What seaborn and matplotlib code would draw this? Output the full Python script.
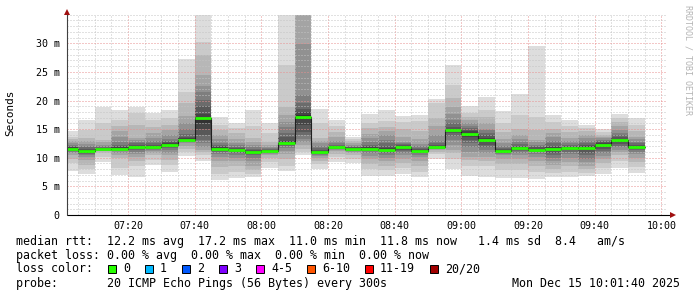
import numpy as np
import pandas as pd
import matplotlib
matplotlib.use("Agg")
import matplotlib.pyplot as plt
import matplotlib.dates as mdates
from matplotlib.ticker import FixedLocator, MultipleLocator
from matplotlib.patches import Rectangle
import seaborn as sns

# ---------------- data ----------------
graph_start = "2025-12-15 07:01:40"
graph_end = "2025-12-15 10:01:40"
bar_times = pd.date_range("2025-12-15 07:00", periods=35, freq="5min")

median_ms = [11.6, 11.2, 11.5, 11.5, 11.8, 11.9, 12.3, 13.1, 16.9, 11.6,
             11.3, 11.0, 11.2, 12.6, 17.2, 11.0, 11.8, 11.6, 11.6, 11.4,
             11.8, 11.2, 11.8, 14.8, 14.2, 13.1, 11.2, 11.7, 11.4, 11.5,
             11.7, 11.7, 12.2, 13.1, 11.8]

# 20 sorted ping rtts (ms) per 5-minute step
p0700 = [7.7, 9.0, 9.8, 10.4, 10.8, 11.0, 11.2, 11.4, 11.5, 11.6, 11.7, 11.8, 11.9, 12.0, 12.2, 12.5, 12.9, 13.3, 13.7, 14.7]
p0705 = [7.2, 8.0, 8.7, 9.6, 10.2, 10.5, 10.7, 10.9, 11.1, 11.2, 11.3, 11.4, 11.6, 11.8, 12.0, 12.4, 12.9, 13.4, 14.8, 16.6]
p0710 = [9.3, 10.2, 10.8, 11.1, 11.2, 11.3, 11.4, 11.4, 11.5, 11.5, 11.6, 11.6, 11.7, 11.8, 12.0, 12.3, 12.7, 13.1, 16.0, 18.9]
p0715 = [7.0, 8.3, 9.9, 10.5, 10.9, 11.1, 11.3, 11.4, 11.4, 11.5, 11.6, 11.8, 12.0, 12.3, 12.8, 13.6, 14.6, 15.6, 16.6, 18.3]
p0720 = [6.7, 8.5, 9.5, 10.2, 10.6, 11.0, 11.3, 11.5, 11.7, 11.8, 11.9, 12.0, 12.2, 12.5, 12.8, 13.1, 13.4, 15.7, 17.8, 18.9]
p0725 = [8.7, 9.6, 10.4, 10.9, 11.2, 11.4, 11.6, 11.7, 11.8, 11.9, 12.0, 12.1, 12.3, 12.6, 13.0, 13.5, 14.3, 15.3, 16.6, 17.9]
p0730 = [7.6, 8.8, 9.6, 10.4, 10.9, 11.3, 11.7, 11.9, 12.1, 12.3, 12.4, 12.6, 12.8, 13.0, 13.3, 14.0, 14.8, 15.7, 17.0, 18.3]
p0735 = [10.3, 11.0, 11.6, 12.1, 12.5, 12.7, 12.9, 13.0, 13.1, 13.1, 13.2, 13.4, 13.7, 14.2, 15.0, 16.0, 17.3, 19.6, 21.5, 27.2]
p0740 = [9.4, 10.5, 11.0, 11.4, 11.8, 12.5, 13.1, 14.0, 15.1, 16.0, 16.9, 17.6, 19.0, 20.1, 21.5, 22.5, 24.5, 27.9, 30.2, 38.0]
p0745 = [6.1, 7.2, 8.4, 9.5, 10.2, 10.7, 11.0, 11.2, 11.4, 11.6, 11.7, 11.8, 12.0, 12.2, 12.6, 13.2, 14.0, 14.8, 15.7, 17.1]
p0750 = [6.5, 7.5, 8.5, 9.4, 10.0, 10.5, 10.8, 11.0, 11.2, 11.3, 11.4, 11.5, 11.7, 11.9, 12.2, 12.6, 13.2, 14.3, 15.2, 16.1]
p0755 = [6.7, 7.2, 7.8, 8.6, 9.4, 10.0, 10.4, 10.7, 10.9, 11.0, 11.1, 11.2, 11.3, 11.5, 11.8, 12.2, 12.8, 13.4, 15.5, 18.3]
p0800 = [8.3, 9.2, 9.9, 10.4, 10.7, 10.9, 11.0, 11.1, 11.1, 11.2, 11.3, 11.3, 11.4, 11.5, 11.7, 11.9, 12.2, 12.8, 14.3, 16.0]
p0805 = [7.7, 8.5, 9.8, 10.6, 11.2, 11.7, 12.0, 12.3, 12.5, 12.6, 12.7, 13.0, 13.6, 14.4, 15.3, 16.2, 17.5, 18.9, 26.2, 36.0]
p0810 = [10.4, 11.0, 11.6, 12.2, 12.8, 13.3, 13.9, 14.5, 15.8, 16.8, 17.5, 18.0, 18.6, 19.5, 20.9, 29.9, 45.0, 55.0, 70.0, 90.0]
p0815 = [8.0, 8.9, 9.5, 9.9, 10.3, 10.5, 10.7, 10.8, 10.9, 11.0, 11.1, 11.2, 11.4, 11.7, 12.1, 12.6, 13.0, 13.4, 16.0, 18.5]
p0820 = [9.3, 10.1, 10.7, 11.1, 11.3, 11.5, 11.6, 11.7, 11.8, 11.8, 11.9, 12.0, 12.1, 12.3, 12.6, 13.0, 13.6, 14.5, 15.5, 16.6]
p0825 = [9.0, 9.8, 10.4, 10.8, 11.0, 11.2, 11.3, 11.4, 11.5, 11.6, 11.7, 11.7, 11.8, 11.9, 12.0, 12.2, 12.5, 12.9, 13.3, 13.7]
p0830 = [6.9, 8.0, 8.9, 9.7, 10.3, 10.8, 11.1, 11.3, 11.5, 11.6, 11.7, 11.8, 12.0, 12.3, 12.8, 13.4, 14.2, 15.2, 16.0, 17.6]
p0835 = [6.9, 7.8, 8.6, 9.4, 10.0, 10.5, 10.8, 11.1, 11.3, 11.4, 11.5, 11.7, 12.0, 12.5, 13.1, 13.9, 14.6, 15.4, 16.5, 18.3]
p0840 = [7.2, 8.2, 9.0, 9.8, 10.4, 10.9, 11.2, 11.4, 11.6, 11.8, 11.9, 12.0, 12.2, 12.4, 12.6, 12.8, 13.6, 15.0, 16.3, 17.3]
p0845 = [6.7, 7.6, 8.5, 9.4, 10.1, 10.5, 10.8, 11.0, 11.1, 11.2, 11.3, 11.4, 11.5, 11.7, 12.0, 12.4, 13.2, 14.6, 16.5, 17.5]
p0850 = [9.8, 10.6, 11.0, 11.3, 11.5, 11.6, 11.7, 11.7, 11.8, 11.8, 11.9, 12.0, 12.2, 12.5, 13.0, 14.0, 15.5, 17.0, 19.5, 20.2]
p0855 = [8.0, 9.8, 10.8, 11.4, 12.2, 13.1, 13.8, 14.3, 14.6, 14.8, 14.9, 15.1, 15.4, 16.0, 16.6, 17.6, 18.9, 20.4, 22.7, 26.2]
p0900 = [6.9, 8.5, 9.6, 10.2, 11.0, 11.8, 12.5, 13.1, 13.7, 14.1, 14.3, 14.6, 14.9, 15.2, 15.5, 16.0, 16.6, 17.2, 17.8, 19.1]
p0905 = [6.7, 8.5, 9.5, 10.2, 10.8, 11.4, 11.9, 12.3, 12.8, 13.0, 13.2, 13.5, 13.9, 14.3, 14.8, 15.1, 16.0, 17.1, 18.3, 20.6]
p0910 = [6.5, 7.8, 8.9, 9.8, 10.4, 10.7, 10.9, 11.0, 11.1, 11.2, 11.3, 11.4, 11.5, 11.7, 12.0, 12.5, 13.3, 14.5, 16.0, 18.2]
p0915 = [6.5, 7.8, 8.9, 9.8, 10.5, 10.9, 11.2, 11.4, 11.5, 11.7, 11.8, 11.9, 12.1, 12.4, 12.8, 13.3, 14.0, 15.1, 17.5, 21.1]
p0920 = [6.3, 7.5, 8.6, 9.5, 10.2, 10.7, 11.0, 11.1, 11.3, 11.4, 11.5, 11.6, 11.8, 12.0, 12.3, 12.7, 13.1, 14.8, 17.2, 29.6]
p0925 = [6.7, 7.3, 8.0, 8.7, 9.4, 10.0, 10.5, 10.9, 11.2, 11.4, 11.6, 11.8, 12.1, 12.5, 13.0, 13.6, 14.3, 15.1, 16.2, 17.4]
p0930 = [6.7, 7.6, 8.5, 9.3, 10.0, 10.6, 11.0, 11.3, 11.5, 11.6, 11.7, 11.8, 12.0, 12.2, 12.5, 12.9, 13.5, 14.5, 15.6, 16.6]
p0935 = [6.9, 7.4, 8.0, 8.6, 9.2, 9.8, 10.4, 10.9, 11.3, 11.6, 11.8, 12.0, 12.3, 12.6, 13.0, 13.5, 14.0, 14.6, 15.2, 15.7]
p0940 = [7.2, 8.2, 9.0, 9.7, 10.3, 10.8, 11.2, 11.6, 11.9, 12.1, 12.3, 12.5, 12.7, 12.9, 13.1, 13.4, 13.7, 14.0, 14.5, 15.0]
p0945 = [8.3, 9.5, 10.4, 11.0, 11.4, 11.8, 12.1, 12.4, 12.7, 12.9, 13.1, 13.3, 13.6, 14.0, 14.3, 14.9, 15.6, 16.3, 16.9, 17.6]
p0950 = [7.3, 8.4, 9.3, 10.0, 10.6, 11.0, 11.3, 11.5, 11.6, 11.7, 11.9, 12.0, 12.2, 12.5, 12.8, 13.2, 13.7, 14.6, 15.8, 16.9]

x_tick_labels = ["07:20", "07:40", "08:00", "08:20", "08:40", "09:00", "09:20", "09:40", "10:00"]
y_tick_values = [0, 5, 10, 15, 20, 25, 30]
y_tick_labels = ["0", "5 m", "10 m", "15 m", "20 m", "25 m", "30 m"]
y_label = "Seconds"
loss_labels = ["0", "1", "2", "3", "4-5", "6-10", "11-19", "20/20"]
loss_colors = ["#26ff00", "#00b8ff", "#0059ff", "#7e00ff", "#ff00ff", "#ff5500", "#ff0000", "#a10000"]
legend_rows = [
    "median rtt:  12.2 ms avg  17.2 ms max  11.0 ms min  11.8 ms now   1.4 ms sd  8.4   am/s",
    "packet loss: 0.00 % avg  0.00 % max  0.00 % min  0.00 % now",
    "loss color:",
    "probe:       20 ICMP Echo Pings (56 Bytes) every 300s",
]
timestamp = "Mon Dec 15 10:01:40 2025"
watermark = "RRDTOOL / TOBI OETIKER"

smoke = [p0700, p0705, p0710, p0715, p0720, p0725, p0730, p0735, p0740, p0745,
         p0750, p0755, p0800, p0805, p0810, p0815, p0820, p0825, p0830, p0835,
         p0840, p0845, p0850, p0855, p0900, p0905, p0910, p0915, p0920, p0925,
         p0930, p0935, p0940, p0945, p0950]

# ---------------- drawing ----------------
sns.set_style("white")
plt.rcParams["font.family"] = ["DejaVu Sans Mono"]
plt.rcParams["lines.scale_dashes"] = True

W, H = 697, 297
fig = plt.figure(figsize=(W / 100, H / 100), dpi=100, facecolor="white")
ax = fig.add_axes([67 / W, 82 / H, 600 / W, 200.3 / H])
ax.set_facecolor("white")

xleft = mdates.date2num(bar_times.to_pydatetime())
step = 5 / 1440.0
pings = np.array(smoke)
half = 10
for j in range(1, half + 1):
    c = int(190 / half * (half - j)) + 50
    col = "#%02x%02x%02x" % (c, c, c)
    lo = pings[:, j - 1]
    hi = pings[:, 20 - j]
    ax.bar(xleft, hi - lo, bottom=lo, width=step, align="edge",
           color=col, linewidth=0, zorder=1)

# median: dark step line + green bars
med_df = pd.DataFrame({
    "time": list(xleft) + [xleft[-1] + step],
    "median": list(median_ms) + [median_ms[-1]],
})
sns.lineplot(data=med_df, x="time", y="median", drawstyle="steps-post",
             color="#202020", linewidth=0.8, estimator=None, sort=False,
             ax=ax, zorder=3)
ax.hlines(median_ms, xleft, xleft + step, colors="#26ff00", linewidth=2.0, zorder=4)

ax.set_xlim(mdates.date2num(pd.Timestamp(graph_start)), mdates.date2num(pd.Timestamp(graph_end)))
ax.set_ylim(0, 35.0)

tick_pos = [mdates.date2num(pd.Timestamp("2025-12-15 " + t)) for t in x_tick_labels]
ax.xaxis.set_major_locator(FixedLocator(tick_pos))
ax.set_xticklabels(x_tick_labels)
ax.xaxis.set_minor_locator(mdates.MinuteLocator(byminute=range(0, 60, 5)))
ax.yaxis.set_major_locator(FixedLocator(y_tick_values))
ax.set_yticklabels(y_tick_labels)
ax.yaxis.set_minor_locator(MultipleLocator(1))
ax.set_xlabel("")
ax.set_ylabel("")

ax.set_axisbelow(False)
ax.grid(which="minor", color="#c4c4c4", linewidth=0.72, linestyle=(0, (1, 2)))
ax.grid(which="major", color="#e89090", linewidth=0.72, linestyle=(0, (1, 2)))

ax.tick_params(which="major", length=1.6, width=0.7, color="#333333",
               labelsize=7.2, labelcolor="#000000")
ax.tick_params(axis="y", which="major", pad=3.6)
ax.tick_params(axis="x", which="major", pad=3.0)
ax.tick_params(which="minor", length=1.0, width=0.6, color="#333333")
ax.tick_params(axis="y", which="minor", length=0)

for s in ax.spines.values():
    s.set_visible(False)

# axes with arrows
ax.plot([0, 1 + 6 / 600], [0, 0], transform=ax.transAxes, color="#000000",
        lw=0.8, clip_on=False, zorder=6)
ax.plot([0, 0], [0, 1 + 3 / 200], transform=ax.transAxes, color="#404040",
        lw=0.8, clip_on=False, zorder=6)
ax.plot([1 + 6 / 600], [0], marker=">", markersize=4, color="#a01010",
        transform=ax.transAxes, clip_on=False, zorder=7, markeredgewidth=0)
ax.plot([0], [1 + 3 / 200], marker="^", markersize=4, color="#a01010",
        transform=ax.transAxes, clip_on=False, zorder=7, markeredgewidth=0)

# y axis label
fig.text(10 / W, 1 - 113 / H, y_label, rotation=90, ha="center", va="center",
         fontsize=7.9, color="#000000")

# watermark
fig.text(688 / W, 1 - 60 / H, watermark, rotation=270, ha="center", va="center",
         fontsize=6.0, color="#b4b4b4")

# legend rows
row_y = [241.7, 255.2, 269.0, 283.3]
for txt, yy in zip(legend_rows, row_y):
    fig.text(16 / W, 1 - yy / H, txt, ha="left", va="center", fontsize=8.37,
             color="#000000")
fig.text(680.5 / W, 1 - row_y[3] / H, timestamp, ha="right", va="center",
         fontsize=8.37, color="#000000")

# loss color boxes
bx = 108.0
for lab, col in zip(loss_labels, loss_colors):
    fig.add_artist(Rectangle((bx / W, 1 - 273.3 / H), 7.5 / W, 8.3 / H,
                             transform=fig.transFigure, facecolor=col,
                             edgecolor="#000000", linewidth=0.7))
    fig.text((bx + 15) / W, 1 - row_y[2] / H, lab, ha="left", va="center",
             fontsize=8.37, color="#000000")
    bx += 30 + 7 * len(lab)

fig.savefig("out.png", dpi=100, facecolor="white")
